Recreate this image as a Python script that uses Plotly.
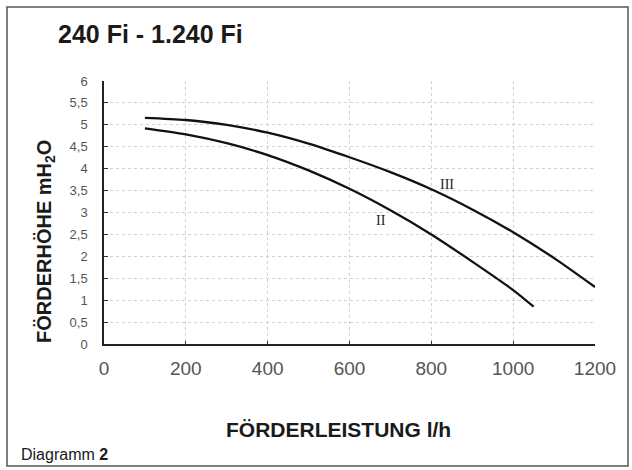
import plotly.graph_objects as go

flow_III = [100, 200, 300, 400, 500, 600, 700, 800, 900, 1000, 1100, 1200]
head_III = [5.16, 5.11, 5.0, 4.82, 4.57, 4.26, 3.92, 3.53, 3.07, 2.55, 1.96, 1.3]
flow_II = [100, 200, 300, 400, 500, 600, 700, 800, 900, 1000, 1050]
head_II = [4.92, 4.78, 4.58, 4.31, 3.96, 3.54, 3.05, 2.5, 1.88, 1.23, 0.85]
x_ticks = [0, 200, 400, 600, 800, 1000, 1200]
y_ticks = [0, 0.5, 1, 1.5, 2, 2.5, 3, 3.5, 4, 4.5, 5, 5.5, 6]

fig = go.Figure()
fig.add_trace(go.Scatter(x=flow_III, y=head_III, mode="lines",
                         line=dict(color="#111", width=2.3, shape="spline", smoothing=0.8),
                         name="III", showlegend=False))
fig.add_trace(go.Scatter(x=flow_II, y=head_II, mode="lines",
                         line=dict(color="#111", width=2.3, shape="spline", smoothing=0.8),
                         name="II", showlegend=False))

W, H = 632, 470
L, R, T, B = 104, 37, 81, 126
pw, ph = W - L - R, H - T - B

def px(xp):
    return (xp - L) / pw

def py(yp):
    return (H - B - yp) / ph

fig.update_layout(
    width=W, height=H,
    margin=dict(l=L, r=R, t=T, b=B, autoexpand=False),
    paper_bgcolor="white", plot_bgcolor="white",
    separators=",.",
    font=dict(family="Liberation Sans, Arial, sans-serif", color="#222"),
    xaxis=dict(range=[0, 1200], tickvals=x_ticks, showline=True, linecolor="#222",
               linewidth=2, ticks="inside", ticklen=3, tickcolor="#333",
               showgrid=True, gridcolor="#d2d2d2", griddash="dot", gridwidth=1,
               zeroline=False, tickfont=dict(size=19, color="#555"),
               ticklabelstandoff=6),
    yaxis=dict(range=[0, 6], tickvals=y_ticks, showline=True, linecolor="#222",
               linewidth=1.5, ticks="inside", ticklen=4, tickcolor="#333",
               showgrid=True, gridcolor="#d2d2d2", griddash="dot", gridwidth=1,
               zeroline=False, tickfont=dict(size=13, color="#555"),
               tickformat=".1~f", ticklabelstandoff=12),
    shapes=[
        dict(type="rect", xref="paper", yref="paper",
             x0=px(7), x1=px(628), y0=py(466), y1=py(7),
             line=dict(color="#555", width=1.5)),
    ],
    annotations=[
        dict(text="<b>240 Fi - 1.240 Fi</b>", xref="paper", yref="paper",
             x=px(56), y=py(34), xanchor="left", yanchor="middle", showarrow=False,
             font=dict(size=25, color="#1a1a1a")),
        dict(text="<b>FÖRDERHÖHE mH<sub>2</sub>O</b>", xref="paper", yref="paper",
             x=px(45), y=py(242), xanchor="center", yanchor="middle", textangle=-90,
             showarrow=False, font=dict(size=20, color="#1a1a1a")),
        dict(text="<b>FÖRDERLEISTUNG l/h</b>", xref="paper", yref="paper",
             x=px(338), y=py(429), xanchor="center", yanchor="middle", showarrow=False,
             font=dict(size=21, color="#1a1a1a")),
        dict(text="Diagramm <b>2</b>", xref="paper", yref="paper",
             x=px(19), y=py(454), xanchor="left", yanchor="middle", showarrow=False,
             font=dict(size=16, color="#1a1a1a")),
        dict(text="III", x=839, y=3.64, showarrow=False,
             font=dict(size=14, family="Liberation Serif, serif", color="#222")),
        dict(text="II", x=677, y=2.82, showarrow=False,
             font=dict(size=14, family="Liberation Serif, serif", color="#222")),
    ],
)

fig.write_html("out.html", config={"displayModeBar": False},
               post_script="document.body.style.margin='0';document.body.style.padding='0';")
